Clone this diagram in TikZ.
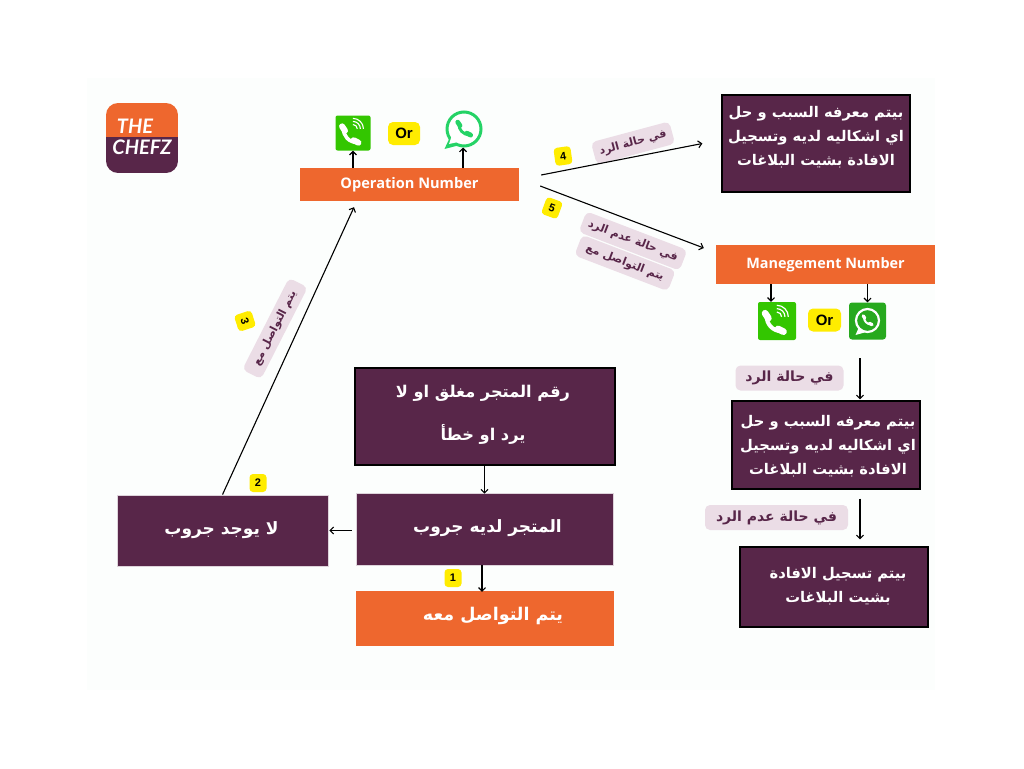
\documentclass[tikz,border=0pt]{standalone}
\usepackage{fontspec}
\usetikzlibrary{arrows.meta}
\TeXXeTstate=1
\newfontfamily\arabicfont[Script=Arabic]{DejaVu Sans}
\newfontfamily\opensans{Open Sans}
\newfontfamily\lsans{Liberation Sans}
\newfontfamily\logofont{Lato}
\definecolor{plum}{HTML}{582649}
\definecolor{orng}{HTML}{EE672E}
\definecolor{yell}{HTML}{FFEC00}
\definecolor{pill}{HTML}{EBDDE6}
\definecolor{vgreen}{HTML}{33C600}
\definecolor{wgreen}{HTML}{25D366}
\definecolor{wsq}{HTML}{27A91E}
\definecolor{paper}{HTML}{FCFEFD}
\tikzset{
  box/.style={fill=plum,draw=black,line width=1.2pt,inner sep=0pt,text=white,font=\arabicfont\bfseries\fontsize{14.7}{24}\selectfont},
  softbox/.style={box,draw=plum!20,line width=0.8pt,font=\arabicfont\bfseries\fontsize{17}{20}\selectfont},
  orangebox/.style={fill=orng,inner sep=0pt,text=white},
  badge/.style={fill=yell,rounded corners=3.5pt,minimum width=17pt,minimum height=18pt,inner sep=0pt,text=black,font=\lsans\bfseries\fontsize{11}{12}\selectfont},
  orbadge/.style={fill=yell,rounded corners=5pt,inner sep=0pt,text=black,font=\lsans\bfseries\fontsize{15}{16}\selectfont},
  tag/.style={fill=pill,rounded corners=5pt,inner sep=0pt,text=plum,font=\arabicfont\bfseries\fontsize{11}{13}\selectfont},
  tagbig/.style={tag,font=\arabicfont\bfseries\fontsize{14}{16}\selectfont},
  iconbox/.style={rounded corners=2pt,inner sep=0pt},
  link/.style={line width=1.1pt,black,-{Straight Barb[length=3.5pt,width=7pt]}}
}
% shifted block of right-to-left lines: dx, dy, lines
\newcommand{\artext}[3]{\raisebox{#2pt}[0pt][0pt]{\makebox[0pt][c]{\hspace{#1pt}\hspace{#1pt}\begin{tabular}[c]{@{}c@{}}#3\end{tabular}}}}
\newcommand{\rl}[1]{\beginR #1\endR}
% handset: cx, cy, half size, colour
\newcommand{\handset}[4]{\begin{scope}[shift={(#1,#2)},scale=#3]
  \draw[#4,line width=#3*0.3pt,line cap=round] (-.55,-.55) .. controls (-.55,.1) and (-.1,.6) .. (.6,.62);
  \draw[#4,line width=#3*0.5pt,line cap=round] (-.66,-.72) -- (-.42,-.36);
  \draw[#4,line width=#3*0.5pt,line cap=round] (.3,.44) -- (.7,.64);
\end{scope}}
% signal arcs: cx, cy, half size
\newcommand{\signal}[3]{\begin{scope}[shift={(#1,#2)},scale=#3]
  \foreach \r in {.4,.68,.96}{
    \draw[white,line width=#3*0.1pt] (-.1,-.1-\r) .. controls (-.1+.55*\r,-.1-\r) and (-.1+\r,-.1-.55*\r) .. (-.1+\r,-.1);
  }
\end{scope}}
\begin{document}
\begin{tikzpicture}[x=1pt,y=-1pt]
\useasboundingbox (0,0) rectangle (1024,768);
\fill[white] (0,0) rectangle (1024,768);
\fill[paper] (87,78) rectangle (935,690);

% logo
\begin{scope}
  \clip[rounded corners=12pt] (106,103) rectangle (178,173);
  \fill[orng] (106,103) rectangle (178,137);
  \fill[plum] (106,137) rectangle (178,173);
\end{scope}
\node[inner sep=0pt,text=white,font=\logofont\bfseries\itshape\fontsize{20}{22}\selectfont] (logoa) at (135,126) {THE};
\node[inner sep=0pt,text=white,font=\logofont\bfseries\itshape\fontsize{20}{22}\selectfont] (logob) at (142,147) {CHEFZ};

% main boxes
\node[box,minimum width=260pt,minimum height=97pt] (closed) at (485,416.5) {\artext{-2}{-1}{\fontsize{16.2}{20}\selectfont\rl{رقم المتجر مغلق او لا}\\[19pt]\fontsize{16.2}{20}\selectfont\rl{يرد او خطأ}}};
\node[softbox,minimum width=257pt,minimum height=72pt] (group) at (484.5,529) {\artext{3}{-4}{\rl{المتجر لديه جروب}}};
\node[softbox,minimum width=211pt,minimum height=71pt] (nogroup) at (222.5,530.5) {\artext{-1}{-4}{\rl{لا يوجد جروب}}};
\node[orangebox,minimum width=258pt,minimum height=55pt,font=\arabicfont\bfseries\fontsize{17.5}{20}\selectfont] (contact) at (485,618.5) {\artext{8}{-2}{\rl{يتم التواصل معه}}};
\node[orangebox,minimum width=219pt,minimum height=33pt,font=\opensans\bfseries\fontsize{14.6}{16}\selectfont] (opnum) at (409.5,184.5) {Operation Number};
\node[orangebox,minimum width=219pt,minimum height=39pt,font=\opensans\bfseries\fontsize{14.4}{16}\selectfont] (mgmt) at (825.5,264.5) {Manegement Number};

% result boxes
\node[box,minimum width=188pt,minimum height=97pt] (reply) at (816,143.5) {\artext{0}{3}{\rl{بيتم معرفه السبب و حل}\\\rl{اي اشكاليه لديه وتسجيل}\\\rl{الافادة بشيت البلاغات}}};
\node[box,minimum width=188pt,minimum height=88pt] (reply2) at (826,445) {\artext{2}{-4}{\rl{بيتم معرفه السبب و حل}\\\rl{اي اشكاليه لديه وتسجيل}\\\rl{الافادة بشيت البلاغات}}};
\node[box,minimum width=188pt,minimum height=80pt] (noreply) at (834,587) {\artext{4}{-2}{\rl{بيتم تسجيل الافادة}\\\rl{بشيت البلاغات}}};

% icons top
\node[iconbox,fill=vgreen,minimum width=35pt,minimum height=35pt] (phonea) at (353,133) {};
\handset{350}{135}{12}{white}
\signal{354}{130}{11}
\node[orbadge,minimum width=32pt,minimum height=23pt] (ora) at (404,133.5) {Or};
\node[circle,draw=wgreen,line width=3pt,fill=white,minimum size=34pt,inner sep=0pt] (waa) at (464,129) {};
\fill[wgreen] (450,137) -- (444.5,149) -- (458,145.5) -- cycle;
\fill[white] (452,135) -- (449,144) -- (458,142) -- cycle;
\handset{464}{129}{9.5}{wgreen}

% icons right
\node[iconbox,fill=vgreen,minimum width=38pt,minimum height=38pt] (phoneb) at (777,321) {};
\handset{774}{323}{13.5}{white}
\signal{778}{318}{12}
\node[orbadge,minimum width=33pt,minimum height=23pt] (orb) at (824.5,320) {Or};
\node[iconbox,rounded corners=3pt,fill=wsq,minimum width=37pt,minimum height=37pt] (wab) at (867.5,321) {};
\draw[white,line width=2.2pt] (867.5,320.5) circle (11.5);
\fill[white] (859,327) -- (855.5,335) -- (864.5,332.5) -- cycle;
\handset{867.5}{320.5}{6.5}{white}

% tags
\node[tag,rotate=15,minimum width=81pt,minimum height=23pt] (tagfour) at (633,143) {\rl{في حالة الرد}};
\node[tag,rotate=-21,minimum width=108pt,minimum height=22pt] (tagfive) at (633,241) {\rl{في حالة عدم الرد}};
\node[tag,rotate=-21,minimum width=100pt,minimum height=22pt] (tagsix) at (625,263) {\rl{يتم التواصل مع}};
\node[tag,rotate=63,minimum width=103pt,minimum height=21pt] (tagthree) at (275,328.5) {\rl{يتم التواصل مع}};
\node[tagbig,minimum width=108pt,minimum height=25pt] (tagyes) at (789.5,378) {\rl{في حالة الرد}};
\node[tagbig,minimum width=143pt,minimum height=25pt] (tagno) at (776.5,517.5) {\rl{في حالة عدم الرد}};

% badges
\node[badge] (bone) at (453,578) {1};
\node[badge] (btwo) at (258,483) {2};
\node[badge,rotate=-72] (bthree) at (245,321) {3};
\node[badge,rotate=8] (bfour) at (563,156) {4};
\node[badge,rotate=-20] (bfive) at (552,208) {5};

% connectors
\draw[link] (group.north |- closed.south) -- ([yshift=-1pt]group.north);
\draw[link] ([xshift=-2.5pt]group.south) -- ([xshift=-2.5pt,yshift=-1pt]group.south |- contact.north);
\draw[link] ([xshift=-4pt]group.west |- nogroup.east) -- ([xshift=1pt]nogroup.east);
\draw[link] (nogroup.north) -- ([shift={(-55.5,6)}]opnum.south);
\draw[link] (phonea.south |- opnum.north) -- (phonea.south);
\draw[link] ([xshift=-1pt]waa.south |- opnum.north) -- ([xshift=-1pt]waa.south);
\draw[link] ([shift={(22,-9.5)}]opnum.east) -- ([shift={(-19,0)}]reply.west);
\draw[link] ([shift={(21,1.5)}]opnum.east) -- ([shift={(-12,-16.5)}]mgmt.west);
\draw[link] ([xshift=-6pt]phoneb.north |- mgmt.south) -- ([xshift=-6pt]phoneb.north);
\draw[link] (wab.north |- mgmt.south) -- (wab.north);
\coordinate (yesstart) at (860,358);
\draw[link] (yesstart) -- ([shift={(34,-1)}]reply2.north);
\draw[link] ([shift={(34,9)}]reply2.south) -- ([shift={(26,-7)}]noreply.north);
\end{tikzpicture}
\end{document}
